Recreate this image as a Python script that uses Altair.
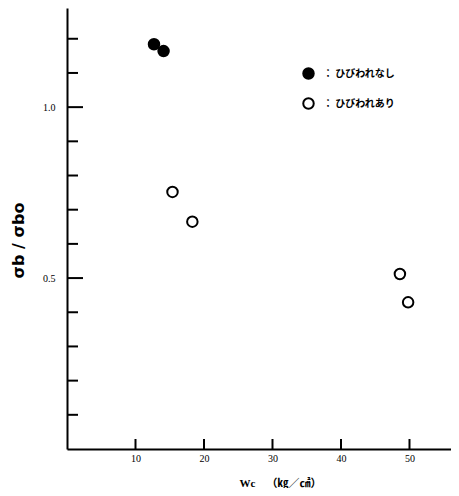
import altair as alt
import pandas as pd

# --- data ---
wc_none = [12.7, 14.1]
ratio_none = [1.184, 1.164]
wc_crack = [15.4, 18.3, 48.6, 49.8]
ratio_crack = [0.752, 0.665, 0.512, 0.429]
cat_none = "ひびわれなし"
cat_crack = "ひびわれあり"

y_label_values = [0.5, 1.0]
y_major_ticks = [0.5, 1.0]
y_minor_ticks = [0.1, 0.2, 0.3, 0.4, 0.6, 0.7, 0.8, 0.9, 1.1, 1.2]
x_tick_values = [10, 20, 30, 40, 50]

W, H = 384, 441
X_DOMAIN = [0, 56.06]
Y_DOMAIN = [0, 1.29]

points = pd.DataFrame({
    "wc": wc_none + wc_crack,
    "ratio": ratio_none + ratio_crack,
    "state": [cat_none] * len(wc_none) + [cat_crack] * len(wc_crack),
})

x_scale = alt.Scale(domain=X_DOMAIN, nice=False, zero=False)
y_scale = alt.Scale(domain=Y_DOMAIN, nice=False, zero=False)

serif = "Liberation Serif"

x_axis = alt.Axis(
    values=x_tick_values, format="d", ticks=False, tickSize=0, grid=False,
    domainColor="black", domainWidth=2,
    labelFont=serif, labelFontSize=10, labelPadding=4, labelColor="black",
    title="Wc\u00a0\u00a0\u00a0\u00a0（㎏／㎠）",
    titleFont="Liberation Serif, Noto Sans CJK JP", titleFontSize=11,
    titleFontWeight="bold", titleColor="black",
    titleX=213, titleY=34, titleBaseline="middle", titleAlign="center",
)
y_axis = alt.Axis(
    values=y_label_values, format=".1f", ticks=False, tickSize=0, grid=False,
    domainColor="black", domainWidth=2,
    labelFont=serif, labelFontSize=10, labelPadding=12, labelColor="black",
    title="σb / σbo", titleFont="DejaVu Sans", titleFontSize=16,
    titleFontWeight="bold", titleColor="black",
    titleX=-49, titleY=232, titleAngle=270,
    titleBaseline="middle", titleAlign="center",
)

legend = alt.Legend(
    orient="none", legendX=235, legendY=59, title=None,
    symbolType="circle", symbolSize=110, symbolStrokeColor="black",
    symbolStrokeWidth=2, symbolOpacity=1,
    labelFont="Noto Sans CJK JP", labelFontSize=10, labelColor="black",
    labelFontWeight="bold",
    labelExpr="'：  ' + datum.label", rowPadding=11, padding=0, labelOffset=8,
)

X = alt.X("wc:Q", scale=x_scale, axis=x_axis)
Y = alt.Y("ratio:Q", scale=y_scale, axis=y_axis)

pts = alt.Chart(points).mark_point(
    filled=True, stroke="black", strokeWidth=2, size=110, opacity=1
).encode(
    x=X, y=Y,
    fill=alt.Fill("state:N", scale=alt.Scale(domain=[cat_none, cat_crack],
                                             range=["black", "white"]),
                  legend=legend),
)

minor = alt.Chart(pd.DataFrame({"ratio": y_minor_ticks})).mark_rule(
    color="black", strokeWidth=2
).encode(y=Y, x=alt.value(0), x2=alt.value(11))

major = alt.Chart(pd.DataFrame({"ratio": y_major_ticks})).mark_rule(
    color="black", strokeWidth=2
).encode(y=Y, x=alt.value(0), x2=alt.value(16))

xt = alt.Chart(pd.DataFrame({"wc": x_tick_values})).mark_rule(
    color="black", strokeWidth=2
).encode(x=X, y=alt.value(H), y2=alt.value(H - 10))

chart = alt.layer(pts, minor, major, xt).properties(
    width=W, height=H,
    background="white",
    autosize=alt.AutoSizeParams(type="none"),
    padding={"left": 59, "top": 0, "right": 0, "bottom": 39},
).configure_view(stroke=None)

chart.save("out.html", embed_options={"renderer": "svg", "actions": False})
